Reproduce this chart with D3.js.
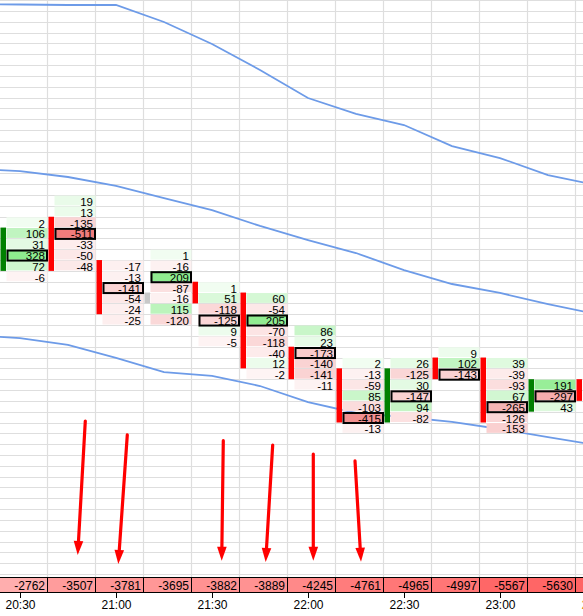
<!DOCTYPE html>
<html><head><meta charset="utf-8">
<script src="https://cdn.jsdelivr.net/npm/d3@7"></script>
<style>
body{margin:0;background:#fff;overflow:hidden}
svg{display:block;font-family:"Liberation Sans",Arial,sans-serif}
</style>
</head><body>
<svg id="chart" width="583" height="616"></svg>
<script>
// ---------- DATA ----------
// candle open times (15-minute bars)
const times = ["20:30","20:45","21:00","21:15","21:30","21:45","22:00","22:15","22:30","22:45","23:00","23:15","23:30"];
// price level (tick index) of the top footprint row of each candle
const topLevel = [19, 21, 15, 16, 13, 12, 9, 6, 6, 7, 6, 4, 4];
// delta per price level, top row first
const deltas = [
  [2, 106, 31, 328, 72, -6],
  [19, 13, -135, -511, -33, -50, -48],
  [-17, -13, -141, -54, -24, -25],
  [1, -16, 209, -87, -16, 115, -120],
  [1, 51, -118, -125, 9, -5],
  [60, -54, 205, -70, -118, -40, 12, -2],
  [86, 23, -173, -140, -141, -11],
  [2, -13, -59, 85, -103, -415, -13],
  [26, -125, 30, -147, 94, -82],
  [9, 102, -143],
  [39, -39, -93, 67, -265, -126, -153],
  [191, -297, 43],
  []
];
// candle body (open/close levels) and direction
const bodyHigh = [18, 19, 15, 12, 13, 12, 7, 5, 5, 6, 6, 4, 4];
const bodyLow  = [15, 15, 11, 12, 12, 6, 5, 1, 1, 5, 1, 2, 3];
const bodyDir  = ["up","down","down","flat","down","down","down","down","up","down","down","up","down"];
// cumulative delta row
const cumDelta = [-2762, -3507, -3781, -3695, -3882, -3889, -4245, -4761, -4965, -4997, -5567, -5630, -5700];
// bands (price levels) at each candle time, candle -1 .. 12
const bandTimes = ["20:15","20:30","20:45","21:00","21:15","21:30","21:45","22:00","22:15","22:30","22:45","23:00","23:15","23:30"];
const bandUpper = [39.14, 39.10, 39.05, 39.05, 37.48, 35.45, 33.05, 30.46, 28.99, 27.97, 26.03, 24.92, 23.35, 22.43];
const bandMid   = [23.91, 23.72, 23.17, 22.34, 21.23, 20.12, 18.65, 17.35, 16.15, 14.58, 13.29, 12.46, 11.44, 10.52];
const bandLower = [8.58, 8.30, 7.66, 6.46, 5.16, 4.80, 3.87, 2.39, 1.38, 1.01, 0.55, -0.10, -0.84, -1.58];
// annotation arrows: start/end in candle-index units and price levels
const arrowX0 = [1.777, 2.652, 4.652, 5.681, 6.527, 7.396];
const arrowX1 = [1.619, 2.465, 4.619, 5.535, 6.527, 7.521];
const arrowL0 = [0.64, -0.65, -1.18, -1.58, -2.41, -3.05];
const arrowL1 = [-11.73, -12.56, -12.26, -12.38, -12.26, -12.35];

// ---------- SCALES ----------
const W = 583, H = 616;
const rowH = 10.83;
const parseT = s => { const [h, m] = s.split(":").map(Number); return new Date(2024, 0, 1, h, m); };
const colW = 48;
const xTime = d3.scaleTime()
  .domain([parseT("20:30"), parseT("23:30")])
  .range([20, 20 + 12 * colW]);
const xIdx = d3.scaleLinear().domain([0, 12]).range([0, 12 * colW]);
const y = d3.scaleLinear().domain([21, 0]).range([200.5, 200.5 + 21 * rowH]);
const plotBottom = 577;

const svg = d3.select("#chart");

// ---------- GRID ----------
const grid = svg.append("g");
const lvMin = Math.floor(y.invert(plotBottom)), lvMax = Math.ceil(y.invert(0));
for (let L = lvMin - 1; L <= lvMax; L++) {
  const yy = Math.round(y(L + 0.5)) + 0.5;
  if (yy < 0 || yy > plotBottom) continue;
  grid.append("line").attr("x1", 0).attr("x2", W).attr("y1", yy).attr("y2", yy)
    .attr("stroke", "#dedede").attr("stroke-width", 1);
}
for (let k = 1; k <= 13; k++) {
  const xx = xIdx(k) - 0.5;
  grid.append("line").attr("x1", xx).attr("x2", xx).attr("y1", 0).attr("y2", plotBottom)
    .attr("stroke", "#dedede").attr("stroke-width", 1.2);
}

// ---------- BANDS ----------
const line = d3.line().x(d => xTime(parseT(d[0]))).y(d => y(d[1]));
[bandUpper, bandMid, bandLower].forEach(b => {
  svg.append("path").datum(bandTimes.map((t, i) => [t, b[i]]))
    .attr("d", line).attr("fill", "none")
    .attr("stroke", "#6d9be8").attr("stroke-width", 1.8);
});

// ---------- FOOTPRINT CELLS ----------
const greenFull = "#8fec8f", redFull = "#f07c7c";
function cellColor(v) {
  if (v >= 0) {
    const t = 0.12 + 0.88 * Math.min(1, v / 210);
    return d3.interpolateRgb("#ffffff", greenFull)(t);
  } else {
    const t = 0.08 + 0.92 * Math.min(1, -v / 500);
    return d3.interpolateRgb("#ffffff", redFull)(t);
  }
}
const cells = svg.append("g");
const labels = svg.append("g").attr("font-size", 11.5).attr("text-anchor", "end").attr("fill", "#000");
const pocs = svg.append("g");
const bars = svg.append("g");
deltas.forEach((vals, i) => {
  const left = xTime(parseT(times[i])) - 20;
  const poc = vals.length ? d3.greatestIndex(vals, v => Math.abs(v)) : -1;
  vals.forEach((v, j) => {
    const L = topLevel[i] - j;
    cells.append("rect")
      .attr("x", left + 6.5).attr("width", 41)
      .attr("y", y(L) - rowH / 2 + 0.5).attr("height", rowH - 1)
      .attr("fill", cellColor(v));
    labels.append("text")
      .attr("x", left + 45).attr("y", y(L) + 5.4)
      .text(v);
    if (j === poc) {
      pocs.append("rect")
        .attr("x", left + 7.5).attr("width", 39.5)
        .attr("y", y(L) - rowH / 2 + 1.3).attr("height", rowH - 0.8)
        .attr("fill", "none").attr("stroke", "#000").attr("stroke-width", 2);
    }
  });
  const col = bodyDir[i] === "up" ? "#008000" : bodyDir[i] === "down" ? "#ff0000" : "#c8c8c8";
  bars.append("rect")
    .attr("x", left + 0.5).attr("width", 5.5)
    .attr("y", y(bodyHigh[i]) - rowH / 2).attr("height", y(bodyLow[i]) - y(bodyHigh[i]) + rowH)
    .attr("fill", col);
});

// ---------- ARROWS ----------
const arrows = svg.append("g");
arrowX0.forEach((_, i) => {
  const x0 = xIdx(arrowX0[i]), y0 = y(arrowL0[i]);
  const x1 = xIdx(arrowX1[i]), y1 = y(arrowL1[i]);
  const dx = x1 - x0, dy = y1 - y0, len = Math.hypot(dx, dy);
  const ux = dx / len, uy = dy / len;
  const headL = 14, headW = 4.8;
  const bx = x1 - ux * headL, by = y1 - uy * headL;
  arrows.append("line").attr("x1", x0).attr("y1", y0).attr("x2", bx + ux * 2).attr("y2", by + uy * 2)
    .attr("stroke", "#ff0000").attr("stroke-width", 3.2).attr("stroke-linecap", "round");
  arrows.append("polygon")
    .attr("points", [[x1, y1], [bx - uy * headW, by + ux * headW], [bx + uy * headW, by - ux * headW]].map(p => p.join(",")).join(" "))
    .attr("fill", "#ff0000");
});

// ---------- CUMULATIVE DELTA ROW ----------
const cumColor = d3.scaleLinear().domain([-2700, -5700]).range(["#ffb0b0", "#ff6464"]).clamp(true);
const cum = svg.append("g");
cumDelta.forEach((v, i) => {
  const left = xTime(parseT(times[i])) - 20;
  cum.append("rect").attr("x", left - 0.5).attr("y", 577.5).attr("width", colW).attr("height", 15)
    .attr("fill", cumColor(v)).attr("stroke", "#000").attr("stroke-width", 1);
  if (left + 45 <= W) {
    cum.append("text").attr("x", left + 45).attr("y", 589.5)
      .attr("font-size", 12).attr("text-anchor", "end").attr("fill", "#000").text(v);
  }
});

// ---------- TIME AXIS ----------
const axis = d3.axisBottom(xTime)
  .ticks(d3.timeMinute.every(30))
  .tickFormat(d3.timeFormat("%H:%M"))
  .tickSize(6).tickPadding(2);
const ax = svg.append("g").attr("transform", "translate(0,592)").call(axis);
ax.select(".domain").remove();
ax.selectAll(".tick line").attr("stroke", "#000");
ax.selectAll(".tick text").attr("font-size", 12).attr("font-family", "Liberation Sans, Arial, sans-serif").attr("fill", "#000");
ax.selectAll(".tick text").filter(d => d3.timeFormat("%H:%M")(d) === "23:30").attr("fill", "#e08a1e");
</script>
</body></html>
